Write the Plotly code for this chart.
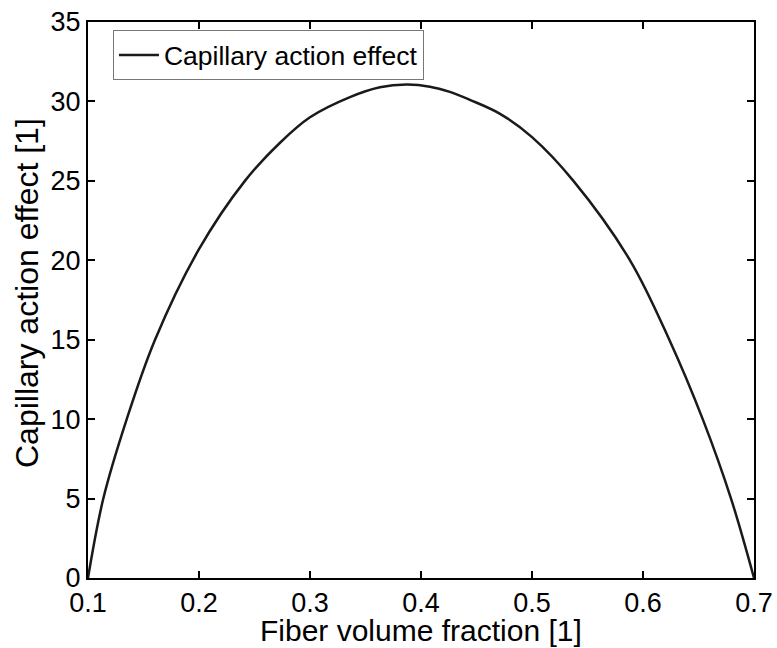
import plotly.graph_objects as go

fiber_fraction = [0.100, 0.1138, 0.1349, 0.1604, 0.2000, 0.2414, 0.2730, 0.3000,
                  0.3360, 0.3630, 0.3871, 0.4080, 0.4260, 0.4440, 0.4712, 0.5000, 0.5373,
                  0.5883, 0.6237, 0.6538, 0.6793, 0.7000]
capillary_effect = [0.0, 5.0, 10.0, 15.0, 20.7, 25.0, 27.4, 29.0,
                    30.27, 30.89, 31.06, 30.93, 30.6, 30.1, 29.22, 27.75, 25.0,
                    20.0, 15.0, 10.0, 5.0, 0.0]

x_ticks = [0.1, 0.2, 0.3, 0.4, 0.5, 0.6, 0.7]
x_tick_labels = ["0.1", "0.2", "0.3", "0.4", "0.5", "0.6", "0.7"]
y_ticks = [0, 5, 10, 15, 20, 25, 30, 35]
y_tick_labels = ["0", "5", "10", "15", "20", "25", "30", "35"]

FONT = "Liberation Sans, Arial, Helvetica, sans-serif"

fig = go.Figure()
fig.add_trace(go.Scatter(
    x=fiber_fraction, y=capillary_effect, mode="lines",
    name="Capillary action effect",
    line=dict(color="#1a1a1a", width=2.5, shape="spline", smoothing=1.0),
))

axis_common = dict(
    showline=True, linecolor="black", linewidth=2, mirror="allticks",
    ticks="inside", ticklen=7, tickwidth=2, tickcolor="black",
    showgrid=False, zeroline=False,
    tickfont=dict(family=FONT, size=27, color="black"),
)

fig.update_layout(
    width=777, height=648,
    margin=dict(l=88, r=23, t=22, b=70, autoexpand=False),
    paper_bgcolor="white", plot_bgcolor="white",
    font=dict(family=FONT, color="black"),
    xaxis=dict(range=[0.1, 0.7], tickvals=x_ticks, ticktext=x_tick_labels, **axis_common),
    yaxis=dict(range=[0, 35], tickvals=y_ticks, ticktext=y_tick_labels, **axis_common),
    showlegend=True,
    legend=dict(x=0.0375, y=0.985, xanchor="left", yanchor="top",
                bgcolor="white", bordercolor="#777777", borderwidth=1,
                font=dict(family=FONT, size=26.5, color="black"),
                tracegroupgap=0, itemwidth=40),
    annotations=[
        dict(text="Fiber volume fraction [1]", xref="paper", yref="paper",
             x=0.5, y=0, xanchor="center", yanchor="middle", yshift=-52,
             showarrow=False, font=dict(family=FONT, size=30, color="black")),
        dict(text="Capillary action effect [1]", xref="paper", yref="paper",
             x=0, y=0.5, xanchor="center", yanchor="middle", xshift=-61, yshift=7,
             textangle=-90, showarrow=False,
             font=dict(family=FONT, size=32, color="black")),
    ],
)

fig.write_html("out.html", config={"displayModeBar": False},
               post_script="document.body.style.margin='0';")
